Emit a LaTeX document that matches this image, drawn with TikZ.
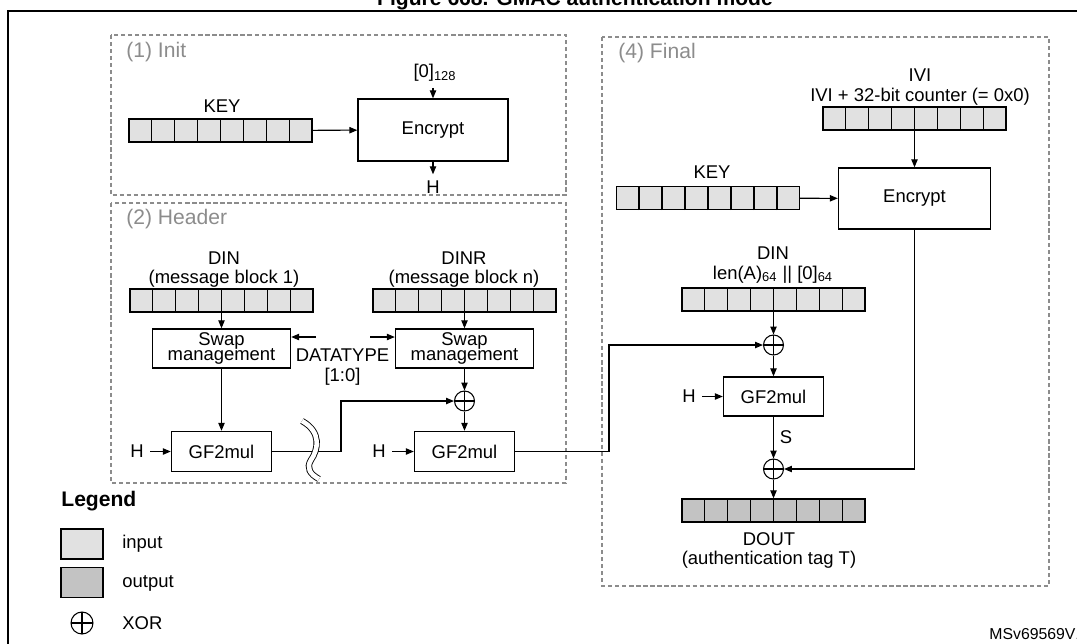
\documentclass[tikz,border=0pt]{standalone}
\usepackage{fontspec}
\setmainfont{Liberation Sans}
\usetikzlibrary{arrows.meta, calc, positioning}

\definecolor{inreg}{HTML}{E1E1E1}
\definecolor{outreg}{HTML}{C3C3C3}
\definecolor{stagegray}{HTML}{8C8C8C}

% cell dividers of an 8-cell register node
\newcommand{\cells}[1]{%
  \foreach \i in {1,...,7}
    \draw[line width=0.8pt] ($(#1.south west)!\i/8!(#1.south east)$) -- ($(#1.north west)!\i/8!(#1.north east)$);}

\begin{document}
\begin{tikzpicture}[x=0.02cm, y=-0.02cm,
    font=\fontsize{10.5}{11}\selectfont, line width=0.6pt,
    >={Triangle[length=4.5pt,width=3.6pt]},
    reg/.style={draw, line width=0.8pt, fill=inreg, minimum width=3.66cm, minimum height=0.46cm, inner sep=0pt},
    blk/.style={draw, line width=0.8pt, fill=white, inner sep=0pt},
    xor/.style={circle, draw, minimum size=0.4cm, inner sep=0pt,
        path picture={\draw (path picture bounding box.north) -- (path picture bounding box.south)
                            (path picture bounding box.west) -- (path picture bounding box.east);}},
    stage/.style={draw=stagegray, dash pattern=on 2.4pt off 1.6pt, line width=0.6pt},
    stagelbl/.style={text=stagegray, font=\fontsize{12}{14}\selectfont, anchor=west}]

    \useasboundingbox (0,0) rectangle (1077,643);

    % title and frame
    \node[anchor=base, font=\bfseries\fontsize{12}{14}\selectfont] (title) at (575,5) {Figure 668. GMAC authentication mode};
    \draw[line width=1.2pt] (1090,11) -- (7.7,11) -- (7.7,660);

    % stages
    \draw[stage] (111,35) rectangle (566,195);
    \draw[stage] (111,203) rectangle (566,483);
    \draw[stage] (602,37) rectangle (1049,586);
    \node[stagelbl] (initLbl) at (120,52) {(1) Init};
    \node[stagelbl] (hdrLbl) at (120,219) {(2) Header};
    \node[stagelbl] (finLbl) at (612,53) {(4) Final};

    % (1) Init
    \node[reg] (keyA) at (220.5,130.5) {}; \cells{keyA}
    \node (keyAlbl) at (222,106) {KEY};
    \node[blk, minimum width=3cm, minimum height=1.24cm] (encA) at (433,130) {Encrypt};
    \node (zeroA) at (435,73) {[0]\textsubscript{128}};
    \node (hA) at (433,187) {H};
    \draw[->] (keyA) -- (encA);
    \draw[->] (encA.north |- zeroA.south) -- (encA.north);
    \draw[->] (encA) -- (hA);

    % (2) Header
    \node[reg] (dinA) at (221.5,300.5) {}; \cells{dinA}
    \node[reg] (dinB) at (464.5,300.5) {}; \cells{dinB}
    \node[align=center] (dinAlbl) at (224,269.5) {DIN\\(message block 1)};
    \node[align=center] (dinBlbl) at (464,269.5) {DINR\\(message block n)};
    \node[blk, minimum width=2.76cm, minimum height=0.78cm, align=center, font=\fontsize{10.5}{9}\selectfont] (swapA) at (221.5,348.5) {Swap\\management};
    \node[blk, minimum width=2.76cm, minimum height=0.78cm, align=center, font=\fontsize{10.5}{9}\selectfont] (swapB) at (464.5,348.5) {Swap\\management};
    \node[align=center] (dtype) at (342.5,367) {DATATYPE\\{[1:0]}};
    \coordinate (dtL) at (316,337);
    \coordinate (dtR) at (370,337);
    \node[xor] (xorA) at (464.5,401) {};
    \node[blk, minimum width=2cm, minimum height=0.8cm] (gfA) at (221.5,451.5) {GF2mul};
    \node[blk, minimum width=2cm, minimum height=0.8cm] (gfB) at (464.5,451.5) {GF2mul};
    \node (hB) at (137,451.5) {H};
    \node (hC) at (379,451.5) {H};
    \coordinate (bendA) at (341,451.5);
    \coordinate (bendB) at (609,451.5);

    \draw[->] (dinA) -- (swapA);
    \draw[->] (dinB) -- (swapB);
    \draw[->] (dtL) -- (dtL -| swapA.east);
    \draw[->] (dtR) -- (dtR -| swapB.west);
    \draw[->] (swapA) -- (gfA);
    \draw[->] (swapB) -- (xorA);
    \draw[->] (xorA) -- (gfB);
    \draw[->] (hB) -- (gfA);
    \draw[->] (hC) -- (gfB);
    \draw[->] (gfA) -- (bendA) |- (xorA);
    \draw[double=white, double distance=2.6pt, line width=0.5pt]
        (302,421) .. controls (322,432) and (318,450) .. (311,460)
        .. controls (306,468) and (310,474) .. (319,479);

    % (4) Final
    \node[reg] (iviReg) at (914.5,118.5) {}; \cells{iviReg}
    \node[align=center] (iviLbl) at (920,87) {IVI\\IVI + 32-bit counter (= 0x0)};
    \node[blk, minimum width=3.04cm, minimum height=1.22cm] (encB) at (914.5,198.5) {Encrypt};
    \node[reg] (keyB) at (708,198) {}; \cells{keyB}
    \node (keyBlbl) at (712,172) {KEY};
    \node[align=center] (dinClbl) at (773,265) {DIN\\len(A)\textsubscript{64} || [0]\textsubscript{64}};
    \node[reg] (dinC) at (773.5,299.5) {}; \cells{dinC}
    \node[xor] (xorB) at (773.5,345) {};
    \node[blk, minimum width=2cm, minimum height=0.78cm] (gfC) at (773.5,396.5) {GF2mul};
    \node (hD) at (689,396.5) {H};
    \node[xor] (xorC) at (773.5,469) {};
    \node[reg, fill=outreg] (dout) at (773.5,510.5) {}; \cells{dout}
    \node[align=center] (doutLbl) at (769,550.5) {DOUT\\(authentication tag T)};
    \coordinate (encOut) at (914.5,469);

    \draw[->] (gfB) -- (bendB) |- (xorB);
    \draw[->] (iviReg) -- (encB);
    \draw[->] (keyB) -- (encB);
    \draw[->] (dinC) -- (xorB);
    \draw[->] (xorB) -- (gfC);
    \draw[->] (hD) -- (gfC);
    \draw[->] (gfC) -- node[right] {S} (xorC);
    \draw[->] (encB) -- (encOut) -- (xorC);
    \draw[->] (xorC) -- (dout);

    % legend
    \node[anchor=west, font=\bfseries\fontsize{12}{14}\selectfont] (legend) at (55,501) {Legend};
    \node[draw, line width=0.8pt, fill=inreg, minimum width=0.84cm, minimum height=0.6cm] (legIn) at (82,544) {};
    \node[draw, line width=0.8pt, fill=outreg, minimum width=0.84cm, minimum height=0.6cm] (legOut) at (82,582.5) {};
    \node[xor, minimum size=0.44cm] (legXor) at (82,623) {};
    \node[anchor=west] (legInLbl) at (116,544) {input};
    \node[anchor=west] (legOutLbl) at (116,583) {output};
    \node[anchor=west] (legXorLbl) at (116,623) {XOR};

    \node[anchor=west, font=\fontsize{9}{10}\selectfont] (msv) at (983,634) {MSv69569V1};
\end{tikzpicture}
\end{document}
